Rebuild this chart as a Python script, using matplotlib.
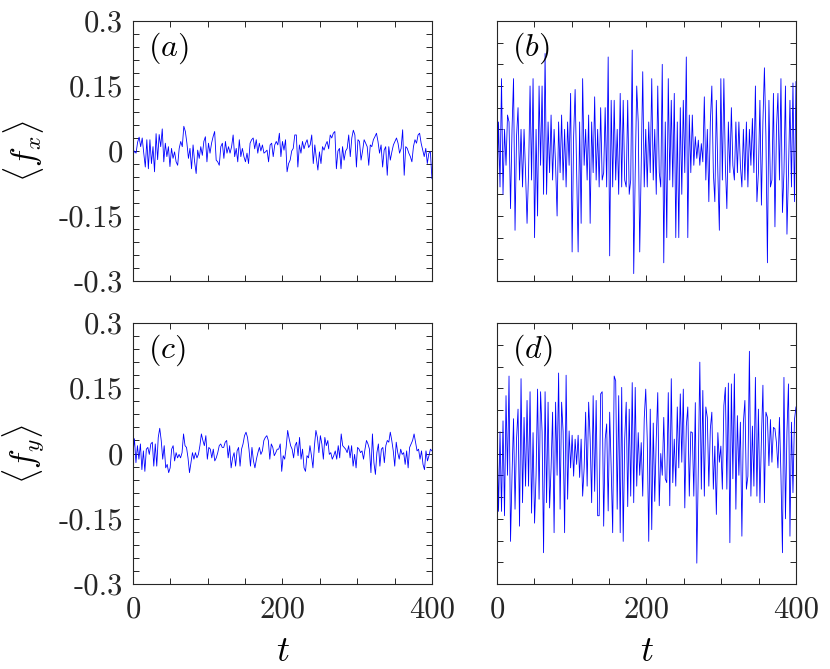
import numpy as np
import matplotlib
matplotlib.use('Agg')
import matplotlib.pyplot as plt
from matplotlib.ticker import MultipleLocator

plt.rcParams['mathtext.fontset'] = 'cm'
plt.rcParams['font.family'] = 'cmr10'
plt.rcParams['axes.formatter.use_mathtext'] = True

# <f_x>, small force (panel a)
fx_a = [-0.01, 0.00, -0.005, 0.02, 0.032, 0.01, 0.03, -0.005, -0.037, 0.026,
        -0.041, 0.026, -0.029, 0.01, -0.048, 0.04, -0.02, 0.038, 0.01, 0.051,
        -0.025, 0.018, -0.013, 0.01, -0.036, 0.006, -0.017, -0.002, -0.025, -0.033,
        0.006, 0.022, 0.01, 0.057, 0.045, 0.018, -0.017, 0.006, -0.041, 0.014,
        -0.025, -0.052, 0.002, -0.017, 0.01, -0.01, 0.022, 0.033, -0.025, 0.018,
        -0.005, 0.018, 0.033, 0.045, -0.021, -0.025, -0.033, 0.01, 0.018, -0.017,
        0.022, -0.005, 0.01, -0.005, 0.01, 0.037, -0.013, 0.006, -0.025, 0.026,
        -0.013, 0.006, -0.013, -0.025, -0.005, -0.029, 0.018, 0.026, 0.03, 0.005,
        0.026, -0.005, 0.018, 0.00, 0.014, -0.005, -0.002, 0.002, -0.025, 0.014,
        0.018, -0.013, 0.014, 0.022, 0.014, 0.041, -0.013, 0.022,
        0.002, 0.026, -0.048, -0.029, -0.021, 0.00, 0.006, 0.037, 0.037, -0.037,
        0.014, -0.005, 0.022, 0.005, 0.018, 0.026, 0.008, 0.014, 0.037, -0.029,
        0.014, -0.017, -0.044, -0.002, -0.029, 0.01, 0.002, 0.014, 0.022, 0.005,
        0.037, 0.03, 0.041, 0.045, -0.041, 0.00, 0.006, -0.041, 0.01, -0.021,
        0.00, 0.006, 0.037, -0.013, 0.03, 0.048, 0.037, -0.037, 0.026, 0.022,
        -0.021, 0.00, 0.026, 0.018, 0.01, -0.033, 0.014, 0.01, 0.026, 0.033,
        0.041, 0.022, -0.005, 0.014, -0.037, 0.002, 0.01, -0.056, 0.01, -0.021,
        -0.002, 0.014, 0.022, 0.03, 0.018, -0.005, 0.006, 0.049, -0.056, 0.01,
        0.006, -0.005, -0.013, -0.025, 0.01, 0.026, 0.018, 0.037, 0.041, 0.018,
        0.002, -0.013, 0.006, -0.029, -0.005, -0.002, -0.064]

# <f_x>, large force (panel b)
fx_b = [-0.117, 0.067, -0.083, 0.167, -0.10, 0.05, -0.033, 0.083, 0.067, -0.133,
        0.05, 0.167, -0.183, 0.033, 0.10, -0.067, 0.05, -0.083, 0.05, -0.05,
        -0.167, -0.05, 0.15, -0.067, 0.167, -0.20, 0.05, -0.15, 0.15, -0.033,
        0.15, -0.10, 0.225, -0.10, 0.067, -0.05, 0.083, -0.067, 0.05, -0.033,
        -0.15, 0.067, -0.05, 0.083, -0.067, 0.05, -0.083, 0.067, -0.033, 0.133,
        -0.233, 0.033, 0.142, -0.05, -0.233, 0.067, -0.167, 0.167, -0.033, 0.05,
        -0.067, 0.083, -0.167, 0.067, -0.05, 0.125, -0.067, 0.05, -0.083, 0.10,
        -0.067, -0.05, 0.10, -0.083, 0.217, -0.242, 0.117, -0.083, 0.117, -0.067,
        0.05, -0.10, 0.133, -0.083, 0.117, -0.067, -0.083, 0.117, -0.10, -0.067,
        0.233, -0.283, -0.05, 0.15, 0.067, -0.233, -0.033, 0.183, -0.083, 0.05,
        -0.083, 0.067, -0.05, 0.167, -0.067, 0.05, -0.10, 0.15, -0.05, -0.083,
        0.20, -0.258, 0.067, -0.20, 0.167, -0.067, 0.117, -0.083, 0.133, -0.20,
        0.067, -0.20, 0.10, -0.10, 0.117, -0.05, 0.217, -0.20, 0.083, -0.05,
        0.083, -0.033, 0.033, -0.017, 0.025, -0.033, 0.017, -0.025, 0.125, -0.067,
        0.05, -0.117, 0.067, 0.15, -0.05, -0.117, 0.117, -0.05, -0.183, 0.167,
        -0.067, 0.167, -0.033, -0.133, 0.067, -0.05, 0.10, -0.033, -0.067, 0.067,
        -0.05, 0.067, -0.033, -0.083, 0.05, -0.067, 0.067, -0.083, 0.05, -0.033,
        0.075, -0.05, 0.15, -0.117, -0.05, 0.117, -0.125, 0.067, 0.192, 0.033,
        -0.258, 0.117, -0.083, -0.067, 0.133, -0.175, 0.05, 0.133, -0.067, 0.167,
        -0.142, -0.05, 0.15, -0.192, -0.05, 0.117, -0.083, 0.157, -0.117, 0.16]

# <f_y>, small force (panel c)
fy_c = [0.00, 0.034, -0.021, 0.018, -0.013, 0.022, -0.037, 0.006, -0.041, 0.01,
        0.014, -0.002, 0.022, 0.026, -0.029, 0.022, -0.029, 0.037, 0.058, 0.03,
        -0.013, 0.018, -0.033, -0.025, -0.044, -0.033, 0.01, 0.018, -0.017, 0.002,
        -0.01, -0.002, -0.01, 0.002, 0.045, 0.018, 0.014, -0.01, -0.044, -0.021,
        0.002, -0.013, 0.002, -0.01, -0.002, 0.018, 0.045, 0.03, 0.018, 0.041,
        -0.013, 0.014, 0.01, -0.01, 0.01, -0.017, -0.01, 0.002, 0.018, 0.022,
        0.014, 0.014, 0.026, 0.03, -0.01, 0.018, -0.033, -0.01, 0.002, -0.029,
        0.006, 0.014, -0.029, 0.01, 0.022, 0.041, 0.049, 0.037, 0.01, -0.029,
        0.014, -0.017, -0.033, -0.013, 0.002, 0.014, -0.002, 0.006, 0.03, 0.037,
        0.041, 0.03, -0.013, 0.022, 0.014, -0.005, 0.002, 0.01,
        0.01, 0.022, -0.041, -0.005, -0.013, 0.014, 0.053, 0.034, 0.018, 0.01,
        -0.01, 0.018, 0.026, -0.005, 0.037, -0.013, 0.01, -0.033, -0.041, -0.005,
        -0.01, 0.018, -0.005, -0.033, 0.018, 0.053, 0.037, 0.002, 0.041, 0.022,
        -0.013, 0.037, 0.018, 0.03, -0.002, 0.002, -0.013, -0.005, 0.006, -0.013,
        0.018, -0.01, 0.045, 0.018, 0.014, 0.01, 0.002, 0.018, -0.01, 0.018,
        -0.029, -0.002, -0.033, 0.014, 0.01, 0.002, 0.006, -0.013, 0.01, 0.03,
        0.022, 0.01, -0.044, 0.045, -0.021, -0.048, 0.002, 0.022, -0.029, 0.01,
        0.014, -0.021, 0.018, 0.03, 0.026, 0.049, 0.03, 0.006, -0.029, 0.026,
        0.002, -0.013, 0.01, -0.002, 0.002, -0.025, 0.006, -0.033, 0.014, 0.022,
        0.03, 0.045, 0.026, 0.006, 0.01, -0.013, 0.006, -0.025, -0.037, 0.006,
        -0.017, -0.005, 0.01, 0.006]

# <f_y>, large force (panel d)
fy_d = [0.067, -0.133, 0.05, -0.133, 0.075, -0.143, 0.133, -0.05, 0.178, -0.202,
        -0.05, 0.08, -0.128, 0.033, 0.102, -0.167, 0.172, -0.113, 0.083, -0.075,
        0.122, -0.075, 0.142, -0.137, 0.048, -0.16, -0.05, 0.148, -0.105, 0.142,
        0.05, -0.228, 0.142, -0.113, 0.118, -0.125, -0.033, 0.095, -0.182, 0.118,
        -0.05, 0.185, -0.128, 0.118, 0.05, -0.182, 0.18, -0.105, 0.052, -0.033,
        0.042, -0.052, 0.033, -0.025, 0.042, -0.055, 0.033, -0.098, -0.033, 0.095,
        -0.075, 0.118, 0.033, -0.113, 0.133, -0.087, 0.122, -0.143, -0.143, 0.137,
        0.142, -0.167, 0.033, 0.068, -0.132, 0.095, -0.033, -0.182, 0.178, 0.167,
        -0.128, 0.133, -0.182, 0.152, -0.202, 0.033, 0.118, -0.122, 0.102, -0.098,
        0.163, -0.113, 0.152, -0.075, 0.048, -0.05, 0.025, -0.098, 0.08, 0.148,
        0.033, -0.202, 0.102, -0.175, 0.07, -0.11, 0.033, 0.14, -0.12, 0.0,
        -0.05, 0.083, -0.058, -0.067, 0.14, -0.12, 0.172, -0.067, 0.033, -0.075,
        0.107, -0.033, 0.137, -0.02, 0.148, -0.125, 0.063, 0.107, -0.098, 0.05,
        0.048, -0.098, 0.117, -0.252, -0.033, 0.21, -0.082, 0.145, -0.098, 0.107,
        0.083, -0.075, 0.057, 0.095, -0.082, 0.017, -0.14, 0.048, -0.02, 0.017,
        -0.082, 0.11, 0.152, -0.082, 0.162, -0.205, 0.16, -0.058, 0.183, -0.128,
        0.087, -0.05, 0.072, -0.19, 0.072, 0.122, -0.082, -0.052, 0.235, -0.098,
        0.063, -0.075, 0.175, -0.098, 0.102, -0.113, 0.033, 0.157, -0.113, 0.095,
        0.083, -0.028, 0.078, -0.02, 0.06, 0.057, 0.025, -0.033, 0.083, -0.05,
        -0.228, 0.175, -0.15, 0.05, 0.16, -0.19, 0.072, -0.09, 0.078, 0.107]

series = [fx_a, fx_b, fy_c, fy_d]
panel_tags = ['$(a)$', '$(b)$', '$(c)$', '$(d)$']
y_ticks = [-0.3, -0.15, 0, 0.15, 0.3]
y_tick_labels = ['-0.3', '-0.15', '0', '0.15', '0.3']
x_ticks = [0, 200, 400]
x_tick_labels = ['0', '200', '400']

fig = plt.figure(figsize=(8.3, 6.69), dpi=100)
rects = [[0.1602, 0.5800, 0.3602, 0.3886],
         [0.5988, 0.5800, 0.3602, 0.3886],
         [0.1602, 0.1270, 0.3602, 0.3902],
         [0.5988, 0.1270, 0.3602, 0.3902]]

for k, (rect, vals, tag) in enumerate(zip(rects, series, panel_tags)):
    ax = fig.add_axes(rect)
    t = np.linspace(0, 400, len(vals))
    ax.plot(t, vals, color='#0000ff', lw=0.6)
    ax.set_xlim(0, 400)
    ax.set_ylim(-0.3, 0.3)
    ax.set_xticks(x_ticks)
    ax.set_yticks(y_ticks)
    ax.xaxis.set_minor_locator(MultipleLocator(50))
    # left column has finer unlabeled y ticks than the right column
    ax.yaxis.set_minor_locator(MultipleLocator(0.03 if k % 2 == 0 else 0.05))
    ax.tick_params(which='both', direction='in', top=True, right=True,
                   length=4, width=0.7, color='#262626', labelsize=22,
                   labelcolor='#262626')
    ax.tick_params(axis='y', pad=7)
    ax.tick_params(axis='x', pad=9)
    for sp in ax.spines.values():
        sp.set_color('#262626')
        sp.set_linewidth(0.8)
    if k < 2:
        ax.set_xticklabels([])
    else:
        ax.set_xticklabels(x_tick_labels)
        ax.set_xlabel('$t$', fontsize=26)
        ax.xaxis.set_label_coords(0.5, -0.2)
    if k % 2 == 1:
        ax.set_yticklabels([])
    else:
        ax.set_yticklabels(y_tick_labels)
        ax.set_ylabel(r'$\langle f_x \rangle$' if k == 0 else r'$\langle f_y \rangle$',
                      fontsize=24)
        ax.yaxis.set_label_coords(-0.29, 0.5)
    ax.text(0.05, 0.965, tag, transform=ax.transAxes, fontsize=23,
            ha='left', va='top')

fig.savefig('out.png', dpi=100)
